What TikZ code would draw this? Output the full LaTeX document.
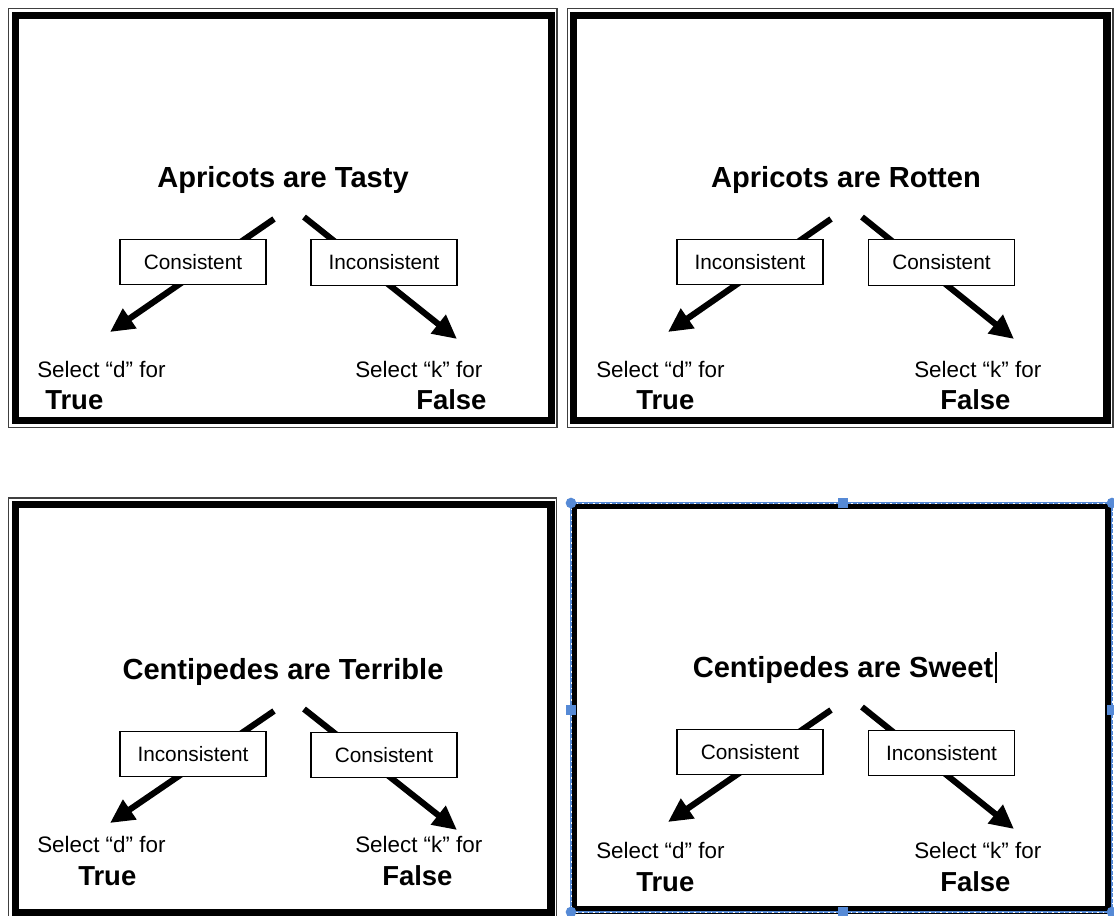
\documentclass[tikz,border=0pt]{standalone}
\usepackage{fontspec}
\setmainfont{Liberation Sans}
\usetikzlibrary{arrows.meta}

\definecolor{selblue}{RGB}{86,138,214}

\tikzset{
	heading/.style={font=\bfseries\fontsize{21.8}{26}\selectfont},
	choice/.style={draw, line width=0.9pt, fill=white, inner sep=0pt,
		minimum width=109.5pt, minimum height=34pt, font=\fontsize{15.6}{18}\selectfont},
	pick/.style={anchor=west, inner sep=0pt, font=\fontsize{16.8}{20}\selectfont},
	answer/.style={anchor=west, inner sep=0pt, font=\bfseries\fontsize{20.6}{24}\selectfont},
	arr/.style={line width=4.6pt, -{Triangle[length=18pt,width=17pt]}},
	thinframe/.style={line width=0.8pt, black!75},
	thickframe/.style={line width=5.6pt}
}

\begin{document}
\begin{tikzpicture}[x=0.75pt, y=-0.75pt]
	\useasboundingbox (0,0) rectangle (1114,915);

	% frames
	\draw [thinframe] (8.5,8.5) rectangle (557,427.5);
	\draw [thickframe] (15.5,15.5) rectangle (551.5,420.5);
	\draw [thinframe] (567.5,8.5) rectangle (1113,427.5);
	\draw [thickframe] (573.5,15.5) rectangle (1107,420.5);
	\draw [thinframe] (8.5,498) rectangle (556.5,925);
	\draw [thickframe] (15.5,504.5) rectangle (551,913);
	\draw [thickframe] (573.5,505.5) rectangle (1108.5,910);

	% arrows
	\coordinate (a1) at (274,219);
	\coordinate (e1) at (110,332);
	\coordinate (a2) at (304,217);
	\coordinate (g2) at (457,339);
	\coordinate (a3) at (831,219);
	\coordinate (e3) at (668,332);
	\coordinate (a4) at (862,217);
	\coordinate (g4) at (1014,339);
	\coordinate (a5) at (274,711);
	\coordinate (e5) at (110,823);
	\coordinate (a6) at (304,709);
	\coordinate (g6) at (457,830);
	\coordinate (a7) at (831,710);
	\coordinate (e7) at (668,822);
	\coordinate (a8) at (862,707);
	\coordinate (g8) at (1014,829);

	\draw [arr] (a1) -- (e1);
	\draw [arr] (a2) -- (g2);
	\draw [arr] (a3) -- (e3);
	\draw [arr] (a4) -- (g4);
	\draw [arr] (a5) -- (e5);
	\draw [arr] (a6) -- (g6);
	\draw [arr] (a7) -- (e7);
	\draw [arr] (a8) -- (g8);

	% panel 1
	\node [heading] (t1) at (283,180) {Apricots are Tasty};
	\node [choice] (c1) at (193,262) {Consistent};
	\node [choice] (i1) at (384,262.5) {Inconsistent};
	\node [pick] (d1) at (37,369) {Select “d” for};
	\node [answer] (v1) at (45,400) {True};
	\node [pick] (k1) at (355,369) {Select “k” for};
	\node [answer] (f1) at (416,400) {False};

	% panel 2
	\node [heading] (t2) at (846,180) {Apricots are Rotten};
	\node [choice] (i2) at (750,262) {Inconsistent};
	\node [choice] (c2) at (941.5,262.5) {Consistent};
	\node [pick] (d2) at (596,369) {Select “d” for};
	\node [answer] (v2) at (636,400) {True};
	\node [pick] (k2) at (914,369) {Select “k” for};
	\node [answer] (f2) at (940,400) {False};

	% panel 3
	\node [heading] (t3) at (283,672) {Centipedes are Terrible};
	\node [choice] (i3) at (193,754) {Inconsistent};
	\node [choice] (c3) at (384,755) {Consistent};
	\node [pick] (d3) at (37,844) {Select “d” for};
	\node [answer] (v3) at (78,876) {True};
	\node [pick] (k3) at (355,844) {Select “k” for};
	\node [answer] (f3) at (382,876) {False};

	% panel 4
	\node [heading] (t4) at (843,670) {Centipedes are Sweet};
	\node [choice] (c4) at (750,752) {Consistent};
	\node [choice] (i4) at (941.5,753) {Inconsistent};
	\node [pick] (d4) at (596,850) {Select “d” for};
	\node [answer] (v4) at (636,882) {True};
	\node [pick] (k4) at (914,850) {Select “k” for};
	\node [answer] (f4) at (940,882) {False};
	\draw [line width=1.6pt] ([xshift=-1.5pt]t4.east |- 0,652) -- ([xshift=-1.5pt]t4.east |- 0,683);

	% selection frame
	\draw [selblue, line width=1.3pt] (571,503) rectangle (1112,912);
	\draw [white, line width=0.6pt, dash pattern=on 1.2pt off 3pt] (571,503) rectangle (1112,912);
	\foreach \p in {(571,503),(1112,503),(571,912),(1112,912)}
		\fill [selblue] \p circle (4pt);
	\foreach \p in {(843,503),(571,710),(1112,710),(843,912)}
		\fill [selblue] \p ++(-3.5pt,-3.5pt) rectangle ++(7pt,7pt);
\end{tikzpicture}
\end{document}
